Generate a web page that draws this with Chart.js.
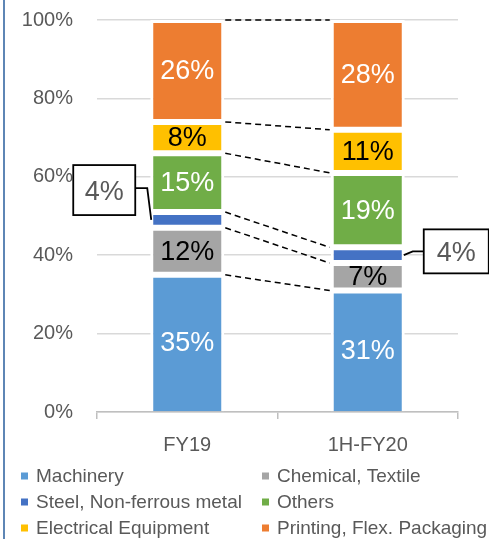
<!DOCTYPE html>
<html lang="en">
<head>
<meta charset="UTF-8" />
<title>Sales by industry</title>
<script src="https://cdn.jsdelivr.net/npm/chart.js@4"></script>
<style>
  body { margin: 0; background: #fff; }
  #wrap { width: 489px; height: 539px; position: relative; }
</style>
</head>
<body>
<div id="wrap"><canvas id="chart"></canvas></div>
<script>
// categories and shares (%), stacked bottom -> top
const categories = ['FY19', '1H-FY20'];
const seriesNames = ['Machinery', 'Chemical, Textile', 'Steel, Non-ferrous metal', 'Others', 'Electrical Equipment', 'Printing, Flex. Packaging'];
const machinery = [35, 31];
const chemical = [12, 7];
const steel = [4, 4];
const others = [15, 19];
const electrical = [8, 11];
const printing = [26, 28];
const yTicks = [0, 20, 40, 60, 80, 100];

const colors = ['#5B9BD5', '#A5A5A5', '#4472C4', '#70AD47', '#FFC000', '#ED7D31'];
const labelColors = ['#fff', '#000', null, '#fff', '#000', '#fff'];
const FONT = "'Liberation Sans', Arial, sans-serif";
const GRAY = '#595959';

const values = [machinery, chemical, steel, others, electrical, printing];

const datasets = values.map((v, i) => ({
  label: seriesNames[i],
  data: v,
  backgroundColor: colors[i],
  borderColor: '#ffffff',
  borderWidth: i === 0 ? { top: 3, left: 3, right: 3, bottom: 0 } : 3,
  borderSkipped: false,
  barPercentage: 0.41,
  categoryPercentage: 1
}));

// white frame + blue line on the left
const background = {
  id: 'background',
  beforeDraw(chart) {
    const ctx = chart.ctx;
    ctx.save();
    ctx.fillStyle = '#fff';
    ctx.fillRect(0, 0, chart.width, chart.height);
    ctx.strokeStyle = '#5E86B5';
    ctx.lineWidth = 2;
    ctx.beginPath();
    ctx.moveTo(4, 0);
    ctx.lineTo(4, chart.height);
    ctx.stroke();
    ctx.restore();
  }
};

// dashed lines joining segment boundaries of the two bars
const connectors = {
  id: 'connectors',
  afterDatasetsDraw(chart) {
    const ctx = chart.ctx;
    const y = chart.scales.y;
    const a = chart.getDatasetMeta(0).data[0];
    const b = chart.getDatasetMeta(0).data[1];
    const x0 = a.x + a.width / 2 + 1;
    const x1 = b.x - b.width / 2 - 1;
    ctx.save();
    ctx.strokeStyle = '#000';
    ctx.lineWidth = 1.5;
    ctx.setLineDash([6, 4]);
    let c0 = 0, c1 = 0;
    for (let i = 0; i < values.length; i++) {
      c0 += values[i][0];
      c1 += values[i][1];
      ctx.beginPath();
      ctx.moveTo(x0, y.getPixelForValue(c0));
      ctx.lineTo(x1, y.getPixelForValue(c1));
      ctx.stroke();
    }
    ctx.restore();
  }
};

// value labels inside segments and the two callouts for Steel
const labels = {
  id: 'labels',
  afterDatasetsDraw(chart) {
    const ctx = chart.ctx;
    ctx.save();
    ctx.font = '27px ' + FONT;
    ctx.textAlign = 'center';
    ctx.textBaseline = 'middle';
    chart.data.datasets.forEach((ds, i) => {
      if (!labelColors[i]) return;
      chart.getDatasetMeta(i).data.forEach((el, j) => {
        ctx.fillStyle = labelColors[i];
        ctx.fillText(ds.data[j] + '%', el.x, (el.y + el.base) / 2 + 1);
      });
    });

    // callouts
    const st = chart.getDatasetMeta(2).data;
    ctx.lineWidth = 1.8;
    ctx.strokeStyle = '#000';
    // FY19, box to the left
    let el = st[0];
    let L = el.x - el.width / 2, T = el.y, B = el.base;
    let bx = L - 77, by = T - 47, bw = 62, bh = 50;
    ctx.beginPath();
    ctx.moveTo(L + 1, (T + B) / 2);
    ctx.lineTo(L - 3, by + 23);
    ctx.lineTo(bx + bw, by + 23);
    ctx.stroke();
    ctx.fillStyle = '#fff';
    ctx.fillRect(bx, by, bw, bh);
    ctx.strokeRect(bx, by, bw, bh);
    ctx.fillStyle = GRAY;
    ctx.fillText(steel[0] + '%', bx + bw / 2, by + bh / 2 + 2);
    // 1H-FY20, box to the right
    el = st[1];
    let R = el.x + el.width / 2;
    T = el.y; B = el.base;
    bx = R + 19; by = T - 18; bw = 65; bh = 44;
    ctx.beginPath();
    ctx.moveTo(R - 1, (T + B) / 2);
    ctx.lineTo(R + 8, by + 22);
    ctx.lineTo(bx, by + 22);
    ctx.stroke();
    ctx.fillStyle = '#fff';
    ctx.fillRect(bx, by, bw, bh);
    ctx.strokeRect(bx, by, bw, bh);
    ctx.fillStyle = GRAY;
    ctx.fillText(steel[1] + '%', bx + bw / 2, by + bh / 2 + 2);
    ctx.restore();
  }
};

// legend in two columns, three rows
const legend2col = {
  id: 'legend2col',
  afterDraw(chart) {
    const ctx = chart.ctx;
    ctx.save();
    ctx.font = '19px ' + FONT;
    ctx.textBaseline = 'middle';
    ctx.textAlign = 'left';
    const colX = [21, 262];
    const rowY = [476, 502, 528];
    chart.data.datasets.forEach((ds, i) => {
      const x = colX[i % 2], yy = rowY[Math.floor(i / 2)];
      ctx.fillStyle = ds.backgroundColor;
      ctx.fillRect(x, yy - 3.5, 7, 7);
      ctx.fillStyle = GRAY;
      ctx.fillText(ds.label, x + 15, yy + 1);
    });
    ctx.restore();
  }
};

new Chart(document.getElementById('chart'), {
  type: 'bar',
  data: { labels: categories, datasets: datasets },
  options: {
    responsive: true,
    maintainAspectRatio: false,
    animation: false,
    layout: { padding: { left: 0, right: 31, top: 20, bottom: 88 } },
    plugins: {
      legend: { display: false },
      tooltip: { enabled: false }
    },
    scales: {
      x: {
        stacked: true,
        afterFit: (s) => { s.height = 39; s.paddingLeft = 0; s.paddingRight = 0; },
        grid: { display: true, drawOnChartArea: false, drawTicks: true, tickLength: 7, color: '#BFBFBF', lineWidth: 1.5 },
        border: { display: true, color: '#BFBFBF', width: 1.5 },
        ticks: { color: GRAY, font: { family: FONT, size: 20 }, padding: 14 }
      },
      y: {
        stacked: true,
        min: 0,
        max: 100,
        afterFit: (s) => { s.width = 97; s.paddingTop = 0; s.paddingBottom = 0; },
        afterBuildTicks: (s) => { s.ticks = yTicks.map(v => ({ value: v })); },
        grid: { color: '#D9D9D9', lineWidth: 1.5, drawTicks: false },
        border: { display: false },
        ticks: {
          color: GRAY,
          padding: 24,
          font: { family: FONT, size: 20 },
          callback: (v) => v + '%'
        }
      }
    }
  },
  plugins: [background, connectors, labels, legend2col]
});
</script>
</body>
</html>
